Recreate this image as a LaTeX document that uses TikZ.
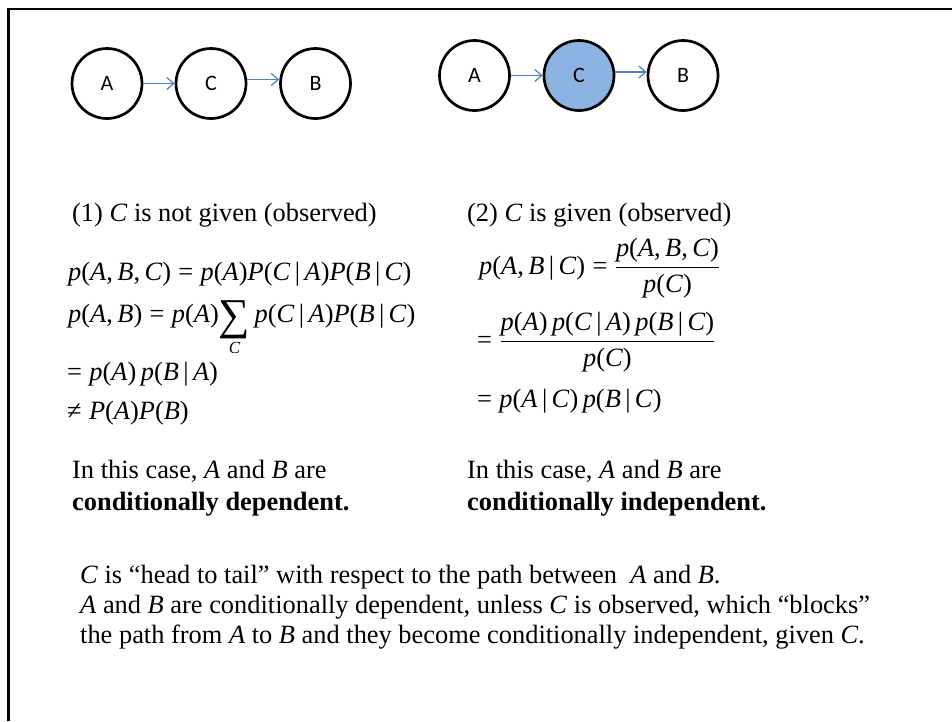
\RequirePackage{fix-cm}
\documentclass[tikz,border=0pt]{standalone}
\usepackage{amsmath}
\usepackage{fontspec}
\setmainfont{Liberation Serif}
\setsansfont{Carlito}
\usetikzlibrary{arrows.meta}
\newcommand\iv[1]{\textit{#1}}
\newcommand\gv{\,|\,}
\newcommand\cm{,\,}
\newcommand\eqs{\;=\;}
% summation sign with its index set below
\newcommand\sumC{$\mathop{\raisebox{-7pt}{\fontsize{44}{44}\selectfont ∑}}\limits_{\raisebox{3pt}{\fontsize{17}{17}\selectfont\itshape C}}$}
\definecolor{edgeblue}{HTML}{4F81BD}
\definecolor{obsfill}{HTML}{8DB3E2}
\begin{document}
\begin{tikzpicture}[x=1pt,y=-1pt,
  varnode/.style={circle,draw=black,line width=2.7pt,minimum size=70pt,inner sep=0pt,
    font=\sffamily\fontsize{22}{22}\selectfont},
  observed/.style={varnode,fill=obsfill},
  edge/.style={draw=edgeblue,line width=1.2pt,-{Straight Barb[length=7pt,width=12pt,line width=1.2pt]}},
  txt/.style={anchor=base west,inner sep=0pt,font=\fontsize{26.4}{30}\selectfont},
  eq/.style={txt}
]
\useasboundingbox (0,0) rectangle (952,721);
\fill[white] (0,0) rectangle (952,721);
% slide frame
\draw[line width=2.3pt] (8.5,721) -- (8.5,9) -- (952,9);

% head-to-tail chain, C unobserved
\node[varnode] (A1) at (107,83.5) {A};
\node[varnode] (C1) at (211,83.5) {C};
\node[varnode] (B1) at (315.5,83.5) {B};
\draw[edge] (A1.east) -- (C1.west);
\draw[edge] ([yshift=4pt]C1.east) -- ([yshift=4pt]B1.west);

% head-to-tail chain, C observed
\node[varnode] (A2) at (474.5,75.5) {A};
\node[observed] (C2) at (579,75.5) {C};
\node[varnode] (B2) at (683,75.5) {B};
\draw[edge] (A2.east) -- (C2.west);
\draw[edge] ([yshift=3.5pt]C2.east) -- ([yshift=3.5pt]B2.west);

% case (1)
\node[txt] (h1) at (72,221) {(1) \iv{C} is not given (observed)};
\node[eq] (e11) at (68,280) {\iv{p}(\iv{A}\cm\iv{B}\cm\iv{C})\eqs\iv{p}(\iv{A})\iv{P}(\iv{C}\gv\iv{A})\iv{P}(\iv{B}\gv\iv{C})};
\node[eq] (e12) at (68,322) {\iv{p}(\iv{A}\cm\iv{B})\eqs\iv{p}(\iv{A})\sumC\,\iv{p}(\iv{C}\gv\iv{A})\iv{P}(\iv{B}\gv\iv{C})};
\node[eq] (e13) at (67,380) {=\;\iv{p}(\iv{A})\,\iv{p}(\iv{B}\gv\iv{A})};
\node[eq] (e14) at (67,419) {≠\;\iv{P}(\iv{A})\iv{P}(\iv{B})};
\node[txt] (c1a) at (72,478) {In this case, \iv{A} and \iv{B} are};
\node[txt] (c1b) at (72,510) {\bfseries conditionally dependent.};

% case (2)
\node[txt] (h2) at (467,221) {(2) \iv{C} is given (observed)};
\node[eq] (e21) at (479,274) {\iv{p}(\iv{A}\cm\iv{B}\gv\iv{C})\eqs$\displaystyle\frac{\text{\iv{p}(\iv{A}\cm\iv{B}\cm\iv{C})}}{\text{\iv{p}(\iv{C})}}$};
\node[eq] (e22) at (477,348) {=\;$\displaystyle\frac{\text{\iv{p}(\iv{A})\,\iv{p}(\iv{C}\gv\iv{A})\,\iv{p}(\iv{B}\gv\iv{C})}}{\text{\iv{p}(\iv{C})}}$};
\node[eq] (e23) at (477,407) {=\;\iv{p}(\iv{A}\gv\iv{C})\,\iv{p}(\iv{B}\gv\iv{C})};
\node[txt] (c2a) at (467,478) {In this case, \iv{A} and \iv{B} are};
\node[txt] (c2b) at (467,510) {\bfseries conditionally independent.};

% summary
\node[txt] (s1) at (80,583) {\iv{C} is “head to tail” with respect to the path between \ \iv{A} and \iv{B}.};
\node[txt] (s2) at (80,613) {\iv{A} and \iv{B} are conditionally dependent, unless \iv{C} is observed, which “blocks”};
\node[txt] (s3) at (80,643) {the path from \iv{A} to \iv{B} and they become conditionally independent, given \iv{C}.};
\end{tikzpicture}
\end{document}
